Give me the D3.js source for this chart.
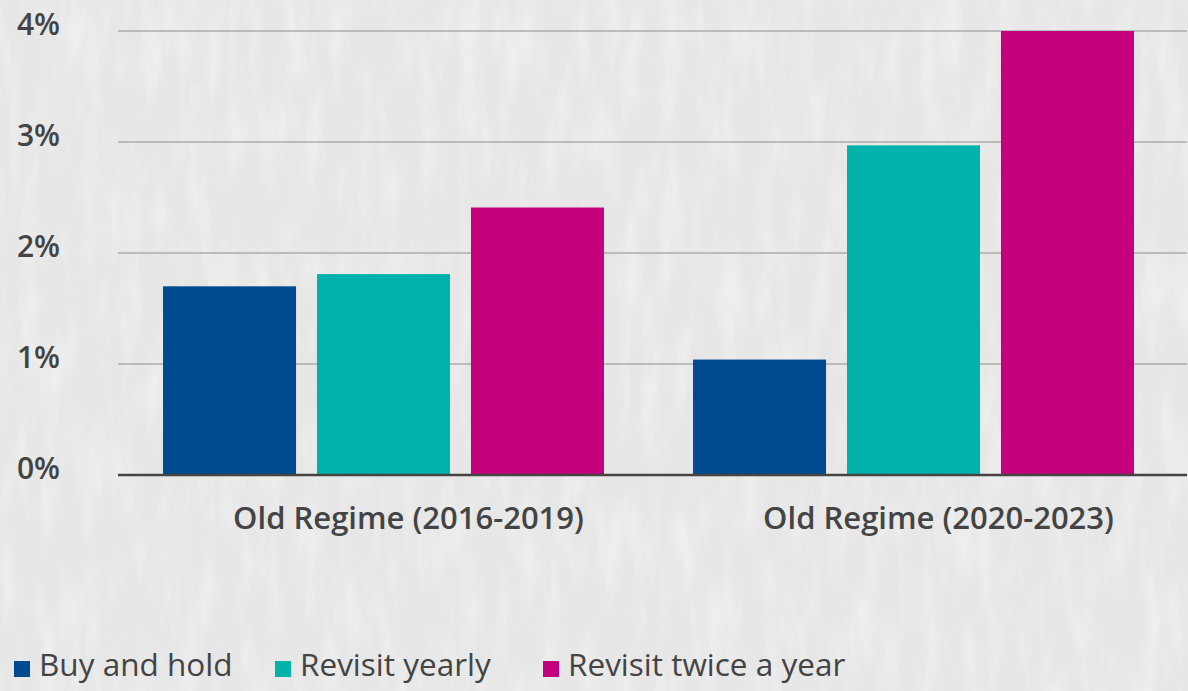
<!DOCTYPE html>
<html>
<head>
<meta charset="utf-8">
<script src="https://cdn.jsdelivr.net/npm/d3@7"></script>
<style>
  html, body { margin: 0; padding: 0; background: #ebebeb; }
  svg { display: block; font-family: "Open Sans", "Noto Sans", sans-serif; }
</style>
</head>
<body>
<div id="chart"></div>
<script>
const width = 1188;
const height = 691;

// data
const categories = ["Old Regime (2016-2019)", "Old Regime (2020-2023)"];
const seriesNames = ["Buy and hold", "Revisit yearly", "Revisit twice a year"];
const buyAndHold = [1.70, 1.04];
const revisitYearly = [1.81, 2.97];
const revisitTwice = [2.41, 4.0];
const yTicks = [0, 1, 2, 3, 4];
const colors = ["#004b8f", "#00b2a9", "#c5007c"];

const seriesValues = [buyAndHold, revisitYearly, revisitTwice];

const svg = d3
  .select("#chart")
  .append("svg")
  .attr("width", width)
  .attr("height", height)
  .attr("viewBox", `0 0 ${width} ${height}`);

// paper-ish background, streaks run mostly vertical
const defs = svg.append("defs");
const paper = defs.append("filter").attr("id", "paper").attr("x", 0).attr("y", 0).attr("width", "100%").attr("height", "100%");
paper.append("feTurbulence").attr("type", "fractalNoise").attr("baseFrequency", "0.05 0.012").attr("numOctaves", 4).attr("seed", 7);
paper.append("feColorMatrix").attr("type", "matrix")
  .attr("values", "0 0 0 0 0.98  0 0 0 0 0.98  0 0 0 0 0.98  0 0 0 -0.9 0.5");

svg.append("rect").attr("width", width).attr("height", height).attr("fill", "#e7e7e7");
svg.append("rect").attr("width", width).attr("height", height).attr("filter", "url(#paper)");

const x0 = d3.scaleBand().domain(categories).range([118.5, 1178.5]).paddingInner(0.168).paddingOuter(0.084);
const x1 = d3.scaleBand().domain(seriesNames).range([0, x0.bandwidth()]).paddingInner(0.136).paddingOuter(0);
const y = d3.scaleLinear().domain([0, 4]).range([475, 31]);

// gridlines
svg.append("g")
  .selectAll("line")
  .data(yTicks.filter((d) => d > 0))
  .join("line")
  .attr("x1", 118)
  .attr("x2", 1187)
  .attr("y1", (d) => y(d))
  .attr("y2", (d) => y(d))
  .attr("stroke", "#adadad")
  .attr("stroke-width", 1.6);

// tick labels
svg.append("g")
  .selectAll("text")
  .data(yTicks)
  .join("text")
  .attr("x", 60)
  .attr("y", (d) => y(d) + 4)
  .attr("text-anchor", "end")
  .attr("fill", "#444")
  .style("font-size", "30px")
  .style("font-weight", 600)
  .text((d) => `${d}%`);

// bars
const groups = svg.append("g")
  .selectAll("g")
  .data(categories)
  .join("g")
  .attr("transform", (c) => `translate(${x0(c)},0)`);

groups.selectAll("rect")
  .data((c, ci) => seriesNames.map((s, si) => ({ s, si, v: seriesValues[si][ci] })))
  .join("rect")
  .attr("x", (d) => x1(d.s))
  .attr("width", x1.bandwidth())
  .attr("y", (d) => y(d.v))
  .attr("height", (d) => y(0) - y(d.v))
  .attr("fill", (d) => colors[d.si]);

// zero line
svg.append("line")
  .attr("x1", 118)
  .attr("x2", 1187)
  .attr("y1", y(0))
  .attr("y2", y(0))
  .attr("stroke", "#444")
  .attr("stroke-width", 2.5);

// category labels
svg.append("g")
  .selectAll("text")
  .data(categories)
  .join("text")
  .attr("x", (c) => x0(c) + x0.bandwidth() / 2 + 25)
  .attr("y", 529)
  .attr("text-anchor", "middle")
  .attr("fill", "#444")
  .style("font-size", "31px")
  .style("font-weight", 600)
  .text((c) => c);

// legend
const legendX = [14, 275, 543];
const legend = svg.append("g")
  .selectAll("g")
  .data(seriesNames)
  .join("g")
  .attr("transform", (d, i) => `translate(${legendX[i]},0)`);

legend.append("rect")
  .attr("x", 0)
  .attr("y", 661)
  .attr("width", 16)
  .attr("height", 16)
  .attr("fill", (d, i) => colors[i]);

legend.append("text")
  .attr("x", 25)
  .attr("y", 676)
  .attr("fill", "#444")
  .style("font-size", "31.5px")
  .text((d) => d);
</script>
</body>
</html>
